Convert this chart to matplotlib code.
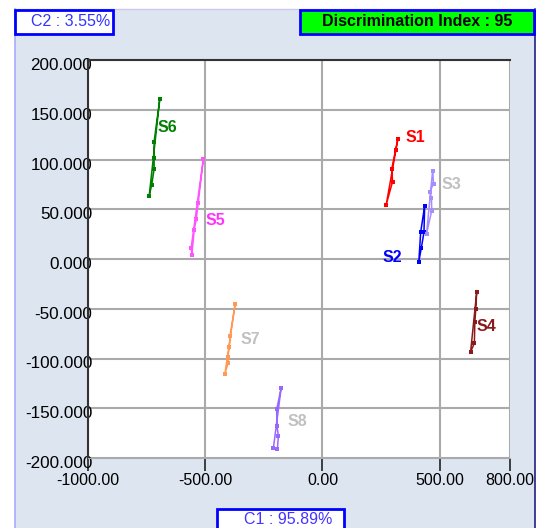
import matplotlib.pyplot as plt
import matplotlib.transforms as mtransforms
from matplotlib.patches import Rectangle

# scores of each sample on the first two components (C1, C2)
names = ["S1", "S2", "S3", "S4", "S5", "S6", "S7", "S8"]
s1_x = [322, 312, 296, 299, 272]
s1_y = [120.9, 109.8, 90.8, 77.7, 54.6]
s2_x = [436, 433, 422, 411, 419]
s2_y = [53.6, 26.8, 11.4, -2.7, 26.8]
s3_x = [470, 474, 458, 465, 466, 444]
s3_y = [88.7, 75.7, 67.6, 61.6, 48.5, 25.4]
s4_x = [658, 654, 650, 648, 632]
s4_y = [-33.2, -50.3, -63.6, -84.7, -93.2]
s5_x = [-508, -530, -538, -547, -557, -560]
s5_y = [100.5, 56.3, 40.2, 29.4, 4.3, 11.4]
s6_x = [-694, -718, -718, -718, -728, -739]
s6_y = [160.5, 117.9, 101.8, 90.5, 74.7, 63.6]
s7_x = [-372, -394, -397, -403, -402, -416]
s7_y = [-44.9, -77.1, -88.1, -98.2, -104.2, -115.3]
s8_x = [-176, -195, -194, -188, -192, -209]
s8_y = [-129.3, -151.1, -167.9, -177.6, -190.9, -189.6]

xs = [s1_x, s2_x, s3_x, s4_x, s5_x, s6_x, s7_x, s8_x]
ys = [s1_y, s2_y, s3_y, s4_y, s5_y, s6_y, s7_y, s8_y]
line_colors = ["#ff0000", "#0000ff", "#a58cff", "#8b1a1a", "#ff55ff", "#008000", "#ff9955", "#9966ff"]
label_colors = ["#ff0000", "#0000ff", "#c0c0c0", "#8b1a1a", "#ff33ff", "#008000", "#c0c0c0", "#c0c0c0"]

c1_pct = 95.89
c2_pct = 3.55
disc_index = 95
x_ticks = [-1000, -500, 0, 500, 800]
y_ticks = [-200, -150, -100, -50, 0, 50, 100, 150, 200]

plt.rcParams['font.family'] = ['Liberation Sans', 'DejaVu Sans']

W, H = 541, 528
fig = plt.figure(figsize=(W / 100, H / 100), dpi=100)

def px(x, y, w=0, h=0):
    # pixel box (top-left origin) -> figure fraction
    return x / W, 1 - (y + h) / H, w / W, h / H

# light blue panel
bx, by, bw, bh = px(15, 9, 520, 519)
fig.patches.append(Rectangle((bx, by), bw, bh, transform=fig.transFigure,
                             facecolor="#dce5f0", edgecolor="none", zorder=-10))
fig.add_artist(plt.Line2D([15 / W, 15 / W], [0, 1 - 9 / H], color="#aaaaff", lw=1.2, zorder=-5))
fig.add_artist(plt.Line2D([535 / W, 535 / W], [0, 1 - 9 / H], color="#202080", lw=1.2, zorder=-5))
fig.add_artist(plt.Line2D([15 / W, 535 / W], [1 - 9 / H, 1 - 9 / H], color="#c8c8f0", lw=1.0, zorder=-5))

ax = fig.add_axes([88 / W, 1 - 458 / H, 422 / W, 398 / H])
ax.set_zorder(1)
ax.set_facecolor("white")
ax.set_xlim(-1000, 800)
ax.set_ylim(-200, 200)
ax.set_xticks(x_ticks)
ax.set_yticks(y_ticks)
ax.set_xticklabels(["%.2f" % v for v in x_ticks], fontsize=11.5)
ax.set_yticklabels(["%.3f" % v for v in y_ticks], fontsize=12.3)
ax.grid(True, color="#aaaaaa", lw=1.5)
ax.set_axisbelow(True)
ax.tick_params(axis='x', length=9, width=1.2, color="#222222", pad=1.5)
ax.tick_params(axis='y', length=0, pad=-3)
shift = mtransforms.ScaledTranslation(0, -4 / 100, fig.dpi_scale_trans)
for lab in ax.get_yticklabels():
    lab.set_transform(lab.get_transform() + shift)
ax.spines['right'].set_visible(False)
ax.spines['bottom'].set_color("#aaaaaa")
ax.spines['top'].set_color("#333333")
ax.spines['left'].set_color("#333333")
ax.spines['top'].set_linewidth(1.5)
ax.spines['left'].set_linewidth(1.5)

# label offsets (data units) relative to first point of each series
label_pos = {"S1": (33, 1), "S2": (-180, -52), "S3": (38, -14), "S4": (0, -35),
             "S5": (8, -62), "S6": (-11, -28), "S7": (22, -36), "S8": (26, -34)}

for name, x, y, lc, tc in zip(names, xs, ys, line_colors, label_colors):
    ax.plot(x + [x[0]], y + [y[0]], color=lc, lw=1.1, marker='s', markersize=3.5,
            markeredgewidth=0, clip_on=False)
    dx, dy = label_pos[name]
    ax.text(x[0] + dx, y[0] + dy, name, color=tc, fontsize=11.5, fontweight='bold',
            ha='left', va='center')

# header / footer boxes
def box(x, y, w, h, face, text, tcolor, tx, ha, bold=False):
    rx, ry, rw, rh = px(x, y, w, h)
    fig.patches.append(Rectangle((rx, ry), rw, rh, transform=fig.transFigure,
                                 facecolor=face, edgecolor="#0000ff", lw=2, zorder=2))
    fig.text(tx / W, 1 - (y + h / 2) / H, text, color=tcolor, fontsize=11.5,
             ha=ha, va='center', fontweight='bold' if bold else 'normal', zorder=3)

box(15, 10, 98, 24, "white", "C2 : %.2f%%" % c2_pct, "#3333ff", 110, 'right')
box(300, 10, 234, 24, "#00ff00", "Discrimination Index : %d" % disc_index, "black", 417, 'center', bold=True)
box(217, 509, 127, 22, "white", "C1 : %.2f%%" % c1_pct, "#4433ff", 332, 'right')

fig.savefig("out.png", dpi=100)
